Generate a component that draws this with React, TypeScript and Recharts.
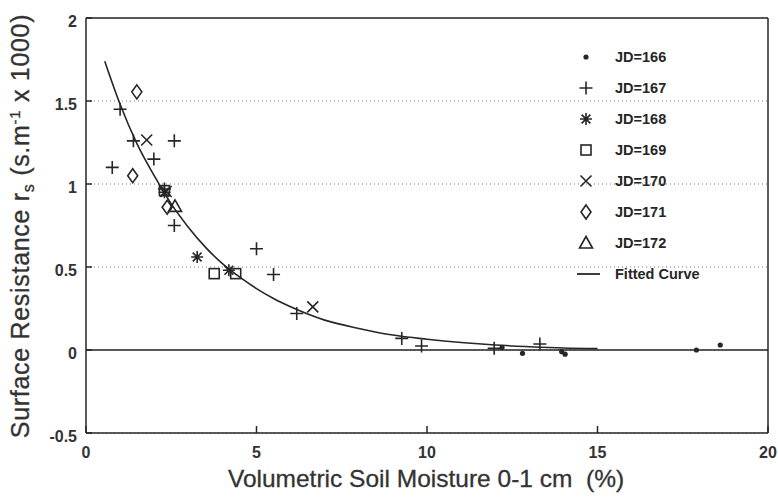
import React from 'react';
import {
  ComposedChart,
  Scatter,
  Line,
  XAxis,
  YAxis,
  CartesianGrid,
  ReferenceLine,
  Label,
} from 'recharts';

const INK = '#262626';
const FONT = '"Liberation Sans", Arial, Helvetica, sans-serif';

// Data (x = soil moisture %, y = resistance / 1000)
const jd166 = [
  { x: 12.2, y: 0.015 },
  { x: 12.8, y: -0.02 },
  { x: 13.95, y: -0.01 },
  { x: 14.05, y: -0.025 },
  { x: 17.9, y: 0.0 },
  { x: 18.6, y: 0.03 },
];
const jd167 = [
  { x: 0.77, y: 1.1 },
  { x: 1.0, y: 1.45 },
  { x: 1.39, y: 1.26 },
  { x: 1.99, y: 1.15 },
  { x: 2.59, y: 1.26 },
  { x: 2.3, y: 0.97 },
  { x: 2.59, y: 0.75 },
  { x: 5.0, y: 0.61 },
  { x: 5.5, y: 0.455 },
  { x: 6.18, y: 0.22 },
  { x: 9.26, y: 0.07 },
  { x: 9.84, y: 0.024 },
  { x: 11.97, y: 0.01 },
  { x: 13.31, y: 0.036 },
];
const jd168 = [
  { x: 2.3, y: 0.95 },
  { x: 3.26, y: 0.56 },
  { x: 4.19, y: 0.48 },
];
const jd169 = [
  { x: 2.3, y: 0.96 },
  { x: 3.76, y: 0.46 },
  { x: 4.39, y: 0.46 },
];
const jd170 = [
  { x: 1.78, y: 1.265 },
  { x: 2.35, y: 0.955 },
  { x: 6.65, y: 0.26 },
];
const jd171 = [
  { x: 1.49, y: 1.555 },
  { x: 1.37, y: 1.05 },
  { x: 2.38, y: 0.86 },
];
const jd172 = [{ x: 2.61, y: 0.865 }];

const fittedCurve = [
  { x: 0.55, y: 1.74 },
  { x: 1.0, y: 1.48 },
  { x: 1.5, y: 1.24 },
  { x: 2.0, y: 1.05 },
  { x: 2.5, y: 0.88 },
  { x: 3.0, y: 0.74 },
  { x: 3.5, y: 0.62 },
  { x: 4.0, y: 0.52 },
  { x: 4.5, y: 0.44 },
  { x: 5.0, y: 0.37 },
  { x: 5.5, y: 0.31 },
  { x: 6.0, y: 0.26 },
  { x: 7.0, y: 0.18 },
  { x: 8.0, y: 0.13 },
  { x: 9.0, y: 0.09 },
  { x: 10.0, y: 0.065 },
  { x: 11.0, y: 0.045 },
  { x: 12.0, y: 0.03 },
  { x: 13.0, y: 0.02 },
  { x: 14.0, y: 0.012 },
  { x: 15.0, y: 0.008 },
];

const xTicks = [0, 5, 10, 15, 20];
const yTicks = [-0.5, 0, 0.5, 1, 1.5, 2];

const legendLabels = ['JD=166', 'JD=167', 'JD=168', 'JD=169', 'JD=170', 'JD=171', 'JD=172', 'Fitted Curve'];

type P = { cx: number; cy: number };
const SW = 1.6;

const Dot = ({ cx, cy }: P) => <circle cx={cx} cy={cy} r={2.6} fill={INK} />;
const Plus = ({ cx, cy }: P) => (
  <path d={`M${cx - 6.5},${cy}H${cx + 6.5}M${cx},${cy - 6.5}V${cy + 6.5}`} stroke={INK} strokeWidth={SW} fill="none" />
);
const Star = ({ cx, cy }: P) => (
  <path
    d={`M${cx - 6},${cy}H${cx + 6}M${cx},${cy - 6}V${cy + 6}M${cx - 4.4},${cy - 4.4}L${cx + 4.4},${cy + 4.4}M${cx - 4.4},${cy + 4.4}L${cx + 4.4},${cy - 4.4}`}
    stroke={INK}
    strokeWidth={SW}
    fill="none"
  />
);
const Square = ({ cx, cy }: P) => (
  <rect x={cx - 5} y={cy - 5} width={10} height={10} stroke={INK} strokeWidth={SW} fill="none" />
);
const Cross = ({ cx, cy }: P) => (
  <path d={`M${cx - 5.5},${cy - 5.5}L${cx + 5.5},${cy + 5.5}M${cx - 5.5},${cy + 5.5}L${cx + 5.5},${cy - 5.5}`} stroke={INK} strokeWidth={SW} fill="none" />
);
const Diamond = ({ cx, cy }: P) => (
  <path d={`M${cx},${cy - 7}L${cx + 5},${cy}L${cx},${cy + 7}L${cx - 5},${cy}Z`} stroke={INK} strokeWidth={SW} fill="none" />
);
const Triangle = ({ cx, cy }: P) => (
  <path d={`M${cx},${cy - 6.5}L${cx + 6.5},${cy + 5}L${cx - 6.5},${cy + 5}Z`} stroke={INK} strokeWidth={SW} fill="none" />
);
const CurveIcon = ({ cx, cy }: P) => (
  <line x1={cx - 9} x2={cx + 14} y1={cy} y2={cy} stroke={INK} strokeWidth={1.8} />
);

const shapes = [Dot, Plus, Star, Square, Cross, Diamond, Triangle, CurveIcon];

const mk = (C: React.FC<P>) => (props: any) => <C cx={props.cx} cy={props.cy} />;

const LegendBox = () => (
  <svg width={180} height={260} style={{ position: 'absolute', left: 560, top: 40, overflow: 'visible' }}>
    {legendLabels.map((lab, i) => {
      const y = 17 + i * 31;
      const C = shapes[i];
      return (
        <g key={lab}>
          <C cx={26} cy={y} />
          <text x={55} y={y} dy="0.35em" fontFamily={FONT} fontWeight="bold" fontSize={14.5} fill={INK}>
            {lab}
          </text>
        </g>
      );
    })}
  </svg>
);

const YTitle = () => (
  <text
    transform="translate(29,226) rotate(-90)"
    textAnchor="middle"
    fontFamily={FONT}
    fontSize={25}
    letterSpacing={0.7}
    fill="#333"
    stroke="#333"
    strokeWidth={0.3}
  >
    Surface Resistance r
    <tspan fontSize={16} dy={5}>s</tspan>
    <tspan dy={-5}> (s.m</tspan>
    <tspan fontSize={15} dy={-9}>-1</tspan>
    <tspan dy={9}> x 1000)</tspan>
  </text>
);

const XTitle = () => (
  <text x={426} y={487} textAnchor="middle" fontFamily={FONT} fontSize={24.5} fill="#333" stroke="#333" strokeWidth={0.3}>
    {'Volumetric Soil Moisture 0-1 cm\u00a0\u00a0(%)'}
  </text>
);

const tickStyle = { fontFamily: FONT, fontWeight: 'bold' as const, fontSize: 16, fill: '#333' };

const YTick = (props: any) => {
  const { x, y, payload } = props;
  return (
    <text x={x} y={y + 3} dy="0.355em" textAnchor="end" {...tickStyle}>
      {String(payload.value)}
    </text>
  );
};

export default function App() {
  return (
    <div style={{ position: 'absolute', left: 0, top: 0, width: 778, height: 498, background: '#fff' }}>
      <ComposedChart width={778} height={498} margin={{ top: 18, right: 10, bottom: 0, left: 0 }}>
        <CartesianGrid horizontal vertical={false} stroke="#777" strokeDasharray="1 3" />
        <XAxis
          type="number"
          dataKey="x"
          domain={[0, 20]}
          ticks={xTicks}
          allowDataOverflow
          height={65}
          stroke={INK}
          strokeWidth={1.5}
          tickSize={-7}
          tickMargin={21}
          tick={tickStyle}
        >
          <Label content={<XTitle />} />
        </XAxis>
        <YAxis
          type="number"
          dataKey="y"
          domain={[-0.5, 2]}
          ticks={yTicks}
          allowDataOverflow
          width={86}
          stroke={INK}
          strokeWidth={1.5}
          tickSize={-6}
          tickMargin={15}
          tick={<YTick />}
        >
          <Label content={<YTitle />} />
        </YAxis>
        <ReferenceLine y={0} stroke={INK} strokeWidth={1.5} />
        <ReferenceLine y={2} stroke={INK} strokeWidth={1.5} />
        <ReferenceLine x={20} stroke={INK} strokeWidth={1.5} />
        <Line
          data={fittedCurve}
          dataKey="y"
          type="monotone"
          dot={false}
          stroke={INK}
          strokeWidth={1.6}
          isAnimationActive={false}
          legendType="none"
        />
        <Scatter data={jd166} shape={mk(Dot)} isAnimationActive={false} />
        <Scatter data={jd167} shape={mk(Plus)} isAnimationActive={false} />
        <Scatter data={jd168} shape={mk(Star)} isAnimationActive={false} />
        <Scatter data={jd169} shape={mk(Square)} isAnimationActive={false} />
        <Scatter data={jd170} shape={mk(Cross)} isAnimationActive={false} />
        <Scatter data={jd171} shape={mk(Diamond)} isAnimationActive={false} />
        <Scatter data={jd172} shape={mk(Triangle)} isAnimationActive={false} />
      </ComposedChart>
      <LegendBox />
    </div>
  );
}
